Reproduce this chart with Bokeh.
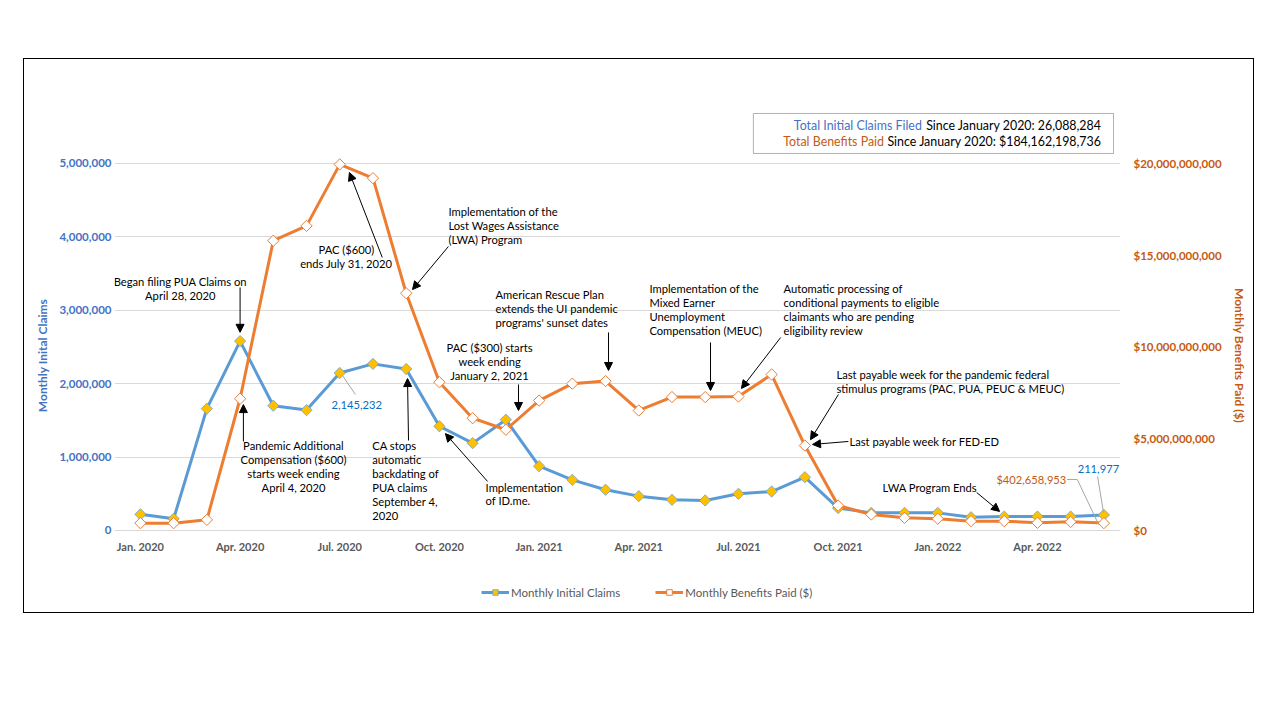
from bokeh.plotting import figure
from bokeh.models import (Range1d, LinearAxis, FixedTicker, NumeralTickFormatter, Label,
                          Arrow, NormalHead, BoxAnnotation, Legend, LegendItem, ColumnDataSource)
from bokeh.embed import file_html
from bokeh.resources import INLINE
import numpy as np

# ---------------- data ----------------
month_index = list(range(30))
tick_positions = [0, 3, 6, 9, 12, 15, 18, 21, 24, 27]
tick_labels = ["Jan. 2020", "Apr. 2020", "Jul. 2020", "Oct. 2020", "Jan. 2021",
               "Apr. 2021", "Jul. 2021", "Oct. 2021", "Jan. 2022", "Apr. 2022"]
claims = [220000, 160000, 1660000, 2580000, 1700000, 1640000, 2145232, 2270000, 2200000,
          1420000, 1190000, 1510000, 876000, 690000, 555000, 468000, 418000, 409000,
          500000, 531000, 726000, 305000, 240000, 240000, 240000, 180000, 190000,
          190000, 190000, 211977]
benefits = [0.40e9, 0.40e9, 0.58e9, 7.18e9, 15.79e9, 16.60e9, 19.95e9, 19.20e9, 12.93e9,
            8.08e9, 6.12e9, 5.49e9, 7.08e9, 8.00e9, 8.14e9, 6.54e9, 7.27e9, 7.27e9,
            7.30e9, 8.50e9, 4.63e9, 1.36e9, 0.87e9, 0.69e9, 0.64e9, 0.51e9, 0.51e9,
            0.42e9, 0.47e9, 402658953]
left_ticks = [0, 1000000, 2000000, 3000000, 4000000, 5000000]
right_ticks = [0, 5e9, 10e9, 15e9, 20e9]

BLUE = "#5B9BD5"
ORANGE = "#ED7D31"
GOLD = "#FFC000"
LBLUE = "#4472C4"
DORANGE = "#C55A11"
GRAY = "#595959"
FONT = "Lato"

R = 4000.0            # ratio between right and left axis scales
Y_TOP = 5.858e6       # headroom above 5,000,000 holds the totals box
Y_BOT = -1.09e6       # room below zero holds the month labels and the legend

src = ColumnDataSource(dict(x=month_index, claims=claims, benefits=benefits))

p = figure(frame_width=1006, frame_height=510, output_backend="svg", toolbar_location=None,
           x_range=Range1d(-0.78, 29.5), y_range=Range1d(Y_BOT, Y_TOP),
           min_border_left=90, min_border_right=133, min_border_top=41,
           min_border_bottom=2)
p.extra_y_ranges = {"right": Range1d(Y_BOT * R, Y_TOP * R)}
p.outline_line_color = None
p.background_fill_color = "white"
p.border_fill_color = "white"
p.margin = (59, 0, 0, 24)
p.styles = {"outline": "1px solid black"}

# axes
xa = p.xaxis[0]
xa.fixed_location = 0
xa.ticker = FixedTicker(ticks=tick_positions)
xa.major_label_overrides = {t: l for t, l in zip(tick_positions, tick_labels)}
xa.axis_line_color = "#D9D9D9"
xa.major_tick_line_color = None
xa.major_tick_out = 0
xa.major_tick_in = 0
xa.minor_tick_line_color = None
xa.major_label_standoff = 10
xa.major_label_text_font = FONT
xa.major_label_text_font_size = "11px"
xa.major_label_text_font_style = "bold"
xa.major_label_text_color = GRAY

ya = p.yaxis[0]
ya.ticker = FixedTicker(ticks=left_ticks)
ya.formatter = NumeralTickFormatter(format="0,0")
ya.axis_line_color = None
ya.major_tick_line_color = None
ya.major_tick_out = 0
ya.major_tick_in = 0
ya.minor_tick_line_color = None
ya.major_label_standoff = 3
ya.major_label_text_font = FONT
ya.major_label_text_font_size = "11.5px"
ya.major_label_text_font_style = "bold"
ya.major_label_text_color = LBLUE
ya.axis_label = "Monthly Inital Claims"
ya.axis_label_text_font = FONT
ya.axis_label_text_font_size = "12px"
ya.axis_label_text_font_style = "bold"
ya.axis_label_text_color = LBLUE
ya.axis_label_standoff = 6

ra = LinearAxis(y_range_name="right", ticker=FixedTicker(ticks=right_ticks),
                formatter=NumeralTickFormatter(format="$0,0"))
ra.axis_line_color = None
ra.major_tick_line_color = None
ra.major_tick_out = 0
ra.major_tick_in = 0
ra.minor_tick_line_color = None
ra.major_label_standoff = 13
ra.major_label_text_font = FONT
ra.major_label_text_font_size = "11.5px"
ra.major_label_text_font_style = "bold"
ra.major_label_text_color = DORANGE
ra.axis_label = "Monthly Benefits Paid ($)"
ra.axis_label_text_font = FONT
ra.axis_label_text_font_size = "12px"
ra.axis_label_text_font_style = "bold"
ra.axis_label_text_color = DORANGE
ra.axis_label_standoff = 7
p.add_layout(ra, "right")

p.xgrid.grid_line_color = None
p.ygrid.grid_line_color = "#D9D9D9"
p.ygrid.ticker = FixedTicker(ticks=left_ticks)

# series
bl = p.line("x", "claims", source=src, line_color=BLUE, line_width=3)
bm = p.scatter("x", "claims", source=src, marker="square", angle=np.pi / 4, size=8,
               fill_color=GOLD, line_color=BLUE, line_width=0.7)
ol = p.line("x", "benefits", source=src, y_range_name="right", line_color=ORANGE, line_width=3)
om = p.scatter("x", "benefits", source=src, y_range_name="right", marker="square",
               angle=np.pi / 4, size=8, fill_color="white", line_color=ORANGE, line_width=1)

legend = Legend(items=[LegendItem(label="Monthly Initial Claims", renderers=[bl, bm]),
                       LegendItem(label="Monthly Benefits Paid ($)", renderers=[ol, om])],
                orientation="horizontal", location=(367, 11), margin=0, padding=5,
                spacing=35, glyph_width=28, glyph_height=14, label_standoff=2,
                border_line_color=None, background_fill_alpha=0,
                label_text_font=FONT, label_text_font_size="11.5px", label_text_color=GRAY)
p.add_layout(legend, "center")

# totals box
p.add_layout(BoxAnnotation(left=18.45, right=29.29, top=5.681e6, bottom=5.136e6,
                           fill_color="white", fill_alpha=1, line_color="black", line_width=1))


def lab(x, y, text, align="left", baseline="top", color="black", size="11.2px"):
    p.add_layout(Label(x=x, y=y, text=text, text_align=align, text_baseline=baseline,
                       text_color=color, text_font=FONT, text_font_size=size,
                       text_line_height=1.07))


def arr(x0, y0, x1, y1, head=True, color="black", width=1):
    p.add_layout(Arrow(x_start=x0, y_start=y0, x_end=x1, y_end=y1,
                       line_color=color, line_width=width,
                       end=NormalHead(size=8, fill_color=color, line_color=color) if head else None))


lab(28.93, 5.518e6, "Since January 2020: 26,088,284", align="right", baseline="middle", size="12.4px")
lab(23.52, 5.518e6, "Total Initial Claims Filed", align="right", baseline="middle", color=LBLUE, size="12.4px")
lab(28.93, 5.300e6, "Since January 2020: $184,162,198,736", align="right", baseline="middle", size="12.4px")
lab(22.38, 5.300e6, "Total Benefits Paid", align="right", baseline="middle", color=DORANGE, size="12.4px")

# annotations
lab(1.20, 3.474e6, "Began filing PUA Claims on\nApril 28, 2020", align="center")
arr(3.0, 3.311e6, 3.0, claims[3] + 120000)

lab(4.61, 1.240e6, "Pandemic Additional\nCompensation ($600)\nstarts week ending\nApril 4, 2020", align="center")
arr(3.1, 1.213e6, 3.1, benefits[3] / R - 80000)

lab(6.20, 3.910e6, "PAC ($600)\nends July 31, 2020", align="center")
arr(7.28, 3.719e6, 6.29, benefits[6] / R - 110000)

lab(9.27, 4.428e6, "Implementation of the\nLost Wages Assistance\n(LWA) Program")
arr(9.27, 3.869e6, 8.19, benefits[8] / R + 50000)

lab(6.98, 1.240e6, "CA stops\nautomatic\nbackdating of\nPUA claims\nSeptember 4,\n2020")
arr(8.07, 1.226e6, 8.04, claims[8] - 130000)

lab(10.39, 0.681e6, "Implementation\nof ID.me.")
arr(10.45, 0.668e6, 9.18, claims[9] - 100000)

lab(10.51, 2.575e6, "PAC ($300) starts\nweek ending\nJanuary 2, 2021", align="center")
arr(11.38, 1.989e6, 11.38, 1.635e6)

lab(10.69, 3.297e6, "American Rescue Plan\nextends the UI pandemic\nprograms' sunset dates")
arr(14.09, 2.698e6, 14.09, benefits[14] / R + 145000)

lab(15.32, 3.379e6, "Implementation of the\nMixed Earner\nUnemployment\nCompensation (MEUC)")
arr(17.16, 2.561e6, 17.16, benefits[17] / R + 90000)

lab(19.36, 3.379e6, "Automatic processing of\nconditional payments to eligible\nclaimants who are pending\neligibility review")
arr(19.27, 2.629e6, 18.09, benefits[18] / R + 110000)

lab(20.95, 2.207e6, "Last payable week for the pandemic federal\nstimulus programs (PAC, PUA, PEUC & MEUC)")
arr(21.01, 1.853e6, 20.17, benefits[20] / R + 80000)

lab(21.34, 1.213e6, "Last payable week for FED-ED", baseline="middle")
arr(21.31, 1.213e6, 20.23, 1.172e6)

lab(22.34, 0.586e6, "LWA Program Ends", baseline="middle")
arr(25.17, 0.518e6, 25.86, claims[25] + 80000)

# data labels with leader lines
lab(5.75, 1.703e6, "2,145,232", baseline="middle", color="#0070C0")
arr(6.08, 2.112e6, 6.47, 1.853e6, head=False, color="#A6A6A6")

lab(28.21, 0.831e6, "211,977", baseline="middle", color="#0070C0")
arr(28.81, 0.736e6, 28.99, claims[29] + 30000, head=False, color="#A6A6A6")

lab(27.87, 0.695e6, "$402,658,953", align="right", baseline="middle", color=DORANGE)
arr(27.89, 0.695e6, 28.20, 0.695e6, head=False, color="#A6A6A6")
arr(28.20, 0.695e6, 28.84, benefits[29] / R - 18000, head=False, color="#A6A6A6")

open("out.html", "w").write(file_html(p, INLINE))
